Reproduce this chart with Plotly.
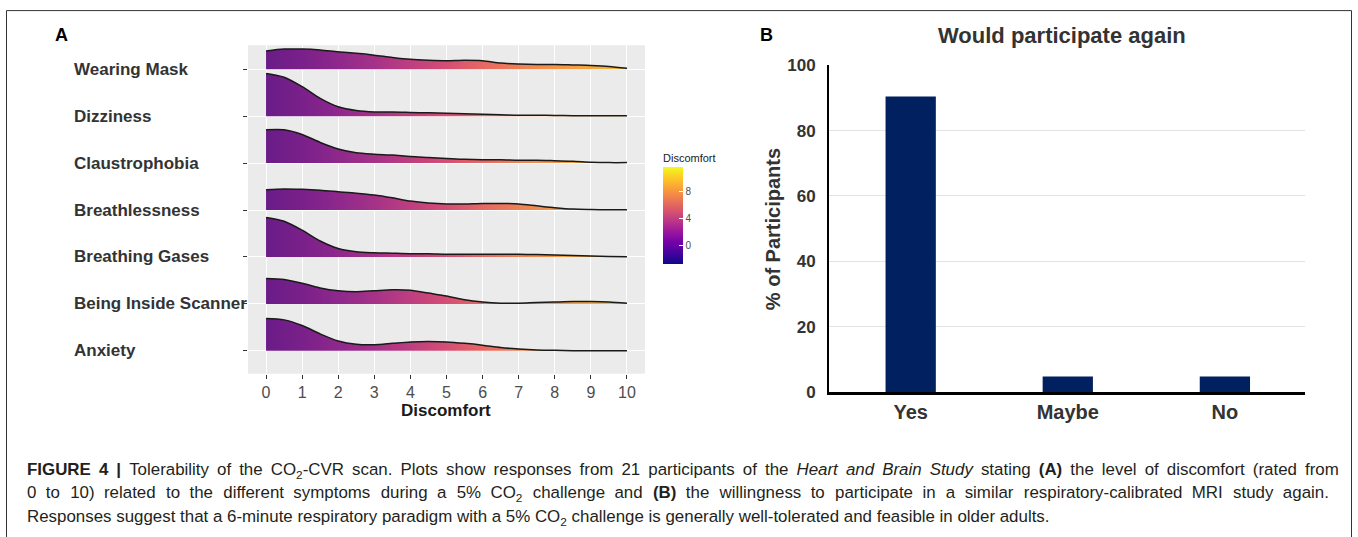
import plotly.graph_objects as go
import plotly.colors as pc

W, H = 1358, 537

# ---------------- Data ----------------
SYMPTOMS = ["Anxiety", "Being Inside Scanner", "Breathing Gases", "Breathlessness",
            "Claustrophobia", "Dizziness", "Wearing Mask"]  # bottom -> top
DISCOMFORT_X = [0, 0.5, 1, 1.5, 2, 2.5, 3, 3.5, 4, 4.5, 5, 5.5, 6, 6.5, 7, 7.5, 8, 8.5, 9, 9.5, 10]
# ridge heights (estimated density, in units of row height)
DENS_WEARING_MASK = [0.39, 0.43, 0.43, 0.41, 0.37, 0.34, 0.30, 0.25, 0.21, 0.19, 0.18, 0.19, 0.18, 0.13, 0.11, 0.10, 0.10, 0.09, 0.08, 0.06, 0.02]
DENS_DIZZINESS = [0.91, 0.83, 0.63, 0.38, 0.20, 0.12, 0.09, 0.09, 0.08, 0.07, 0.06, 0.05, 0.04, 0.03, 0.02, 0.02, 0.015, 0.01, 0.01, 0.01, 0.01]
DENS_CLAUSTROPHOBIA = [0.71, 0.71, 0.61, 0.44, 0.30, 0.22, 0.19, 0.17, 0.14, 0.12, 0.10, 0.08, 0.07, 0.07, 0.06, 0.06, 0.05, 0.04, 0.02, 0.01, 0.01]
DENS_BREATHLESSNESS = [0.43, 0.45, 0.44, 0.42, 0.39, 0.36, 0.32, 0.26, 0.19, 0.15, 0.13, 0.13, 0.14, 0.14, 0.13, 0.09, 0.05, 0.02, 0.01, 0.004, 0.004]
DENS_BREATHING_GASES = [0.84, 0.76, 0.57, 0.34, 0.18, 0.11, 0.09, 0.08, 0.07, 0.07, 0.06, 0.06, 0.06, 0.06, 0.06, 0.05, 0.04, 0.03, 0.02, 0.01, 0.004]
DENS_INSIDE_SCANNER = [0.54, 0.52, 0.44, 0.34, 0.28, 0.26, 0.28, 0.30, 0.29, 0.23, 0.17, 0.09, 0.04, 0.015, 0.015, 0.03, 0.04, 0.05, 0.05, 0.04, 0.015]
DENS_ANXIETY = [0.69, 0.66, 0.54, 0.36, 0.21, 0.14, 0.13, 0.16, 0.19, 0.20, 0.19, 0.16, 0.12, 0.07, 0.04, 0.02, 0.01, 0.004, 0.004, 0.002, 0.002]
DENSITIES = {
    "Wearing Mask": DENS_WEARING_MASK,
    "Dizziness": DENS_DIZZINESS,
    "Claustrophobia": DENS_CLAUSTROPHOBIA,
    "Breathlessness": DENS_BREATHLESSNESS,
    "Breathing Gases": DENS_BREATHING_GASES,
    "Being Inside Scanner": DENS_INSIDE_SCANNER,
    "Anxiety": DENS_ANXIETY,
}
X_TICKS = list(range(0, 11))
CBAR_TICKS = [0, 4, 8]
CBAR_MIN, CBAR_MAX = -2.8, 11.5

ANSWERS = ["Yes", "Maybe", "No"]
PCT_PARTICIPANTS = [90.48, 4.76, 4.76]
Y_TICKS_B = [0, 20, 40, 60, 80, 100]

# ---------------- helpers ----------------
def px_x(p):
    return p / W

def px_y(p):
    # vertical pixel position (top-down) -> paper fraction, with calibration
    return 1 - ((p - 8.9) / 0.96) / H

FONT = "Liberation Sans, Arial, Helvetica, sans-serif"
plasma = pc.sequential.Plasma
n = len(plasma)
plasma_scale = [[i / (n - 1), c] for i, c in enumerate(plasma)]
# ridge fill as it appears in the figure (muted plasma across 0..10)
RIDGE_FILL = ["#6a1c87", "#7a208a", "#8e288c", "#a53288", "#be3e80", "#d54e74",
              "#e66864", "#ee8056", "#f39648", "#f4a840", "#f3b93a"]
ridge_scale = [[i / (len(RIDGE_FILL) - 1), c] for i, c in enumerate(RIDGE_FILL)]

fig = go.Figure()

# ridges: top row first so lower rows sit in front
for name in reversed(SYMPTOMS):
    base = SYMPTOMS.index(name)
    dens = DENSITIES[name]
    fig.add_trace(go.Scatter(
        x=[DISCOMFORT_X[0], DISCOMFORT_X[-1]], y=[base, base],
        mode="lines", line=dict(width=0, color="rgba(0,0,0,0)"),
        hoverinfo="skip", showlegend=False, xaxis="x", yaxis="y"))
    fig.add_trace(go.Scatter(
        x=DISCOMFORT_X, y=[base + d for d in dens],
        mode="lines", line=dict(color="#1a1a1a", width=1.5, shape="spline", smoothing=0.8),
        fill="tonexty",
        fillgradient=dict(type="horizontal", start=DISCOMFORT_X[0], stop=DISCOMFORT_X[-1],
                          colorscale=ridge_scale),
        hoverinfo="skip", showlegend=False, xaxis="x", yaxis="y"))

# colour bar
fig.add_trace(go.Scatter(
    x=[None], y=[None], mode="markers", showlegend=False, xaxis="x", yaxis="y",
    marker=dict(color=[0], colorscale=plasma_scale, cmin=CBAR_MIN, cmax=CBAR_MAX,
                showscale=True,
                colorbar=dict(
                    x=px_x(663), xanchor="left", xpad=0, ypad=0,
                    y=px_y(263), yanchor="bottom",
                    thickness=20, thicknessmode="pixels",
                    len=114, lenmode="pixels",
                    outlinewidth=0,
                    tickvals=CBAR_TICKS, ticks="inside", ticklen=4, tickcolor="white",
                    tickfont=dict(family=FONT, size=10, color="#4d4d4d"),
                    title=dict(text="Discomfort", side="top",
                               font=dict(family=FONT, size=11, color="#1a1a1a")),
                ))))

# bars
fig.add_trace(go.Bar(
    x=ANSWERS, y=PCT_PARTICIPANTS, marker=dict(color="#002060", line=dict(width=0)),
    width=0.32, showlegend=False, xaxis="x2", yaxis="y2", hoverinfo="skip"))

fig.update_layout(
    width=W, height=H,
    margin=dict(l=0, r=0, t=0, b=0),
    paper_bgcolor="white", plot_bgcolor="rgba(0,0,0,0)",
    font=dict(family=FONT),
    xaxis=dict(domain=[px_x(248), px_x(645)], range=[-0.5, 10.5],
               tickvals=X_TICKS, showgrid=True, gridcolor="white", gridwidth=1.2,
               zeroline=False, ticks="outside", ticklen=4, tickcolor="#333333",
               tickfont=dict(family=FONT, size=16, color="#4d4d4d"),
               anchor="y", showline=False),
    yaxis=dict(domain=[px_y(372), px_y(45)], range=[-0.49, 6.51],
               tickvals=list(range(len(SYMPTOMS))), showticklabels=False,
               showgrid=True, gridcolor="white", gridwidth=1.2, zeroline=False,
               ticks="outside", ticklen=4, tickcolor="#333333",
               anchor="x", showline=False),
    xaxis2=dict(domain=[px_x(829), px_x(1305)], type="category",
                range=[-0.52, 2.51], anchor="y2",
                showline=True, linecolor="black", linewidth=2.5,
                showgrid=False, zeroline=False, ticks="",
                tickfont=dict(family=FONT, size=20, color="#333333", weight="bold")),
    yaxis2=dict(domain=[px_y(390), px_y(65)], range=[0, 100], anchor="x2",
                tickvals=Y_TICKS_B, showline=True, linecolor="black", linewidth=2,
                showgrid=True, gridcolor="#e3e3e3", gridwidth=1, zeroline=False,
                ticks="", ticklabelstandoff=8,
                tickfont=dict(family=FONT, size=17, color="#333333", weight="bold")),
    shapes=[
        dict(type="rect", xref="paper", yref="paper", layer="below",
             x0=px_x(248), x1=px_x(645), y0=px_y(372), y1=px_y(45),
             fillcolor="#ebebeb", line=dict(width=0)),
        dict(type="rect", xref="paper", yref="paper", layer="above",
             x0=px_x(6.5), x1=px_x(1351.5), y0=px_y(10.5), y1=-0.05,
             fillcolor="rgba(0,0,0,0)", line=dict(color="#333333", width=1)),
    ],
)

ann = []
# symptom labels (left-aligned like ggplot)
for i, name in enumerate(SYMPTOMS):
    ann.append(dict(text=f"<b>{name}</b>", x=px_x(72), xref="paper", xanchor="left",
                    y=i, yref="y", yanchor="middle", showarrow=False,
                    font=dict(family=FONT, size=17, color="#333333")))
ann += [
    dict(text="<b>Discomfort</b>", x=px_x(446), y=px_y(408), xref="paper", yref="paper",
         xanchor="center", yanchor="middle", showarrow=False,
         font=dict(family=FONT, size=17, color="#1a1a1a")),
    dict(text="<b>A</b>", x=px_x(53), y=px_y(35), xref="paper", yref="paper",
         xanchor="left", yanchor="middle", showarrow=False,
         font=dict(family=FONT, size=18, color="black")),
    dict(text="<b>B</b>", x=px_x(758), y=px_y(35), xref="paper", yref="paper",
         xanchor="left", yanchor="middle", showarrow=False,
         font=dict(family=FONT, size=18, color="black")),
    dict(text="<b>Would participate again</b>", x=px_x(1062), y=px_y(35),
         xref="paper", yref="paper", xanchor="center", yanchor="middle", showarrow=False,
         font=dict(family=FONT, size=22, color="#333333")),
    dict(text="<b>% of Participants</b>", x=px_x(773), y=px_y(228),
         xref="paper", yref="paper", xanchor="center", yanchor="middle", showarrow=False,
         textangle=-90, font=dict(family=FONT, size=20, color="#333333")),
]
CAPTION = [
    "<b>FIGURE 4 |</b> Tolerability of the CO<sub>2</sub>-CVR scan. Plots show responses from 21 participants of the <i>Heart and Brain Study</i> stating <b>(A)</b> the level of discomfort (rated from",
    "0 to 10) related to the different symptoms during a 5% CO<sub>2</sub> challenge and <b>(B)</b> the willingness to participate in a similar respiratory-calibrated MRI study again.",
    "Responses suggest that a 6-minute respiratory paradigm with a 5% CO<sub>2</sub> challenge is generally well-tolerated and feasible in older adults.",
]


def widen(text, gaps):
    # justified lines in the reference: widen word gaps (cycling through gap strings)
    parts = text.split(" ")
    out = parts[0]
    for j, p in enumerate(parts[1:]):
        out += " " + gaps[j % len(gaps)] + p
    return out


CAPTION_GAPS = [["\u2009"], ["\u00a0", "\u2004"], [""]]
for k, line in enumerate(CAPTION):
    ann.append(dict(text=widen(line, CAPTION_GAPS[k]), x=px_x(25), y=px_y(469 + 23 * k),
                    xref="paper", yref="paper",
                    xanchor="left", yanchor="middle", showarrow=False, align="left",
                    font=dict(family=FONT, size=16.9, color="#231f20")))
fig.update_layout(annotations=ann)

fig.write_html("out.html", config={"displayModeBar": False},
               post_script="document.body.style.margin='0px';")
